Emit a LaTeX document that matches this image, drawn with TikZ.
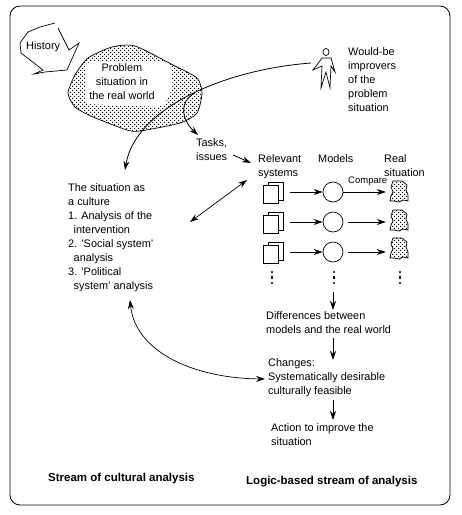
\documentclass[tikz,border=0pt]{standalone}
\usepackage{fontspec}
\setmainfont{Liberation Sans}
\usetikzlibrary{arrows.meta,patterns,shadows}
\pgfdeclarepatternformonly{blobdots}{\pgfqpoint{-1pt}{-1pt}}{\pgfqpoint{4pt}{4pt}}{\pgfqpoint{4pt}{4pt}}{
  \pgfpathrectangle{\pgfqpoint{0pt}{0pt}}{\pgfqpoint{1pt}{1pt}}
  \pgfpathrectangle{\pgfqpoint{2pt}{2pt}}{\pgfqpoint{1pt}{1pt}}
  \pgfusepath{fill}}

\begin{document}
\begin{tikzpicture}[
    x=1pt, y=-1pt,
    txt/.style={anchor=north west, align=left, inner sep=0pt, font=\fontsize{10.9}{14}\selectfont},
    headbox/.style={anchor=base west, inner sep=0pt, font=\fontsize{11.5}{14}\selectfont\bfseries},
    docbox/.style={rectangle, draw=black, fill=white, minimum width=15pt, minimum height=18pt, inner sep=0pt, line width=0.8pt,
        copy shadow={shadow xshift=5pt, shadow yshift=3pt, draw=black, fill=white, line width=0.8pt}},
    modelbox/.style={circle, draw=black, minimum size=20pt, inner sep=0pt, line width=0.7pt},
    realbox/.style={rectangle, minimum width=26pt, minimum height=22pt, inner sep=0pt},
    blob/.style={draw=black, pattern=blobdots, line width=0.7pt},
    arrow/.style={line width=0.8pt,-{Stealth[length=9pt,width=6pt]}},
    both/.style={line width=0.7pt,{Stealth[length=9pt,width=6pt]}-{Stealth[length=9pt,width=6pt]}},
    pics/realblob/.style={code={
        \draw[blob] (-6,-11) -- (3,-11) -- (8,-7) -- (7,-2) -- (9,3) -- (9,9) -- (4,8) -- (0,10) -- (-5,9) -- (-9,9) -- (-8,4) -- (-6,0) -- (-8,-5) -- cycle;
    }}
]
\useasboundingbox (0,0) rectangle (462,515);

% Frame
\draw[line width=0.8pt, rounded corners=10pt] (10,6) rectangle (450,505);

% History
\draw[line width=0.7pt] (58,28) -- (69,50) -- (79,43) -- (67,70) -- (45,72) -- (34,74) -- (43,70) -- (21,53) -- (20,43) -- (28,32) -- (40,27) -- (55,23);
\node[txt] (history) at (26,41) {History};

% Problem situation
\draw[blob] plot[smooth cycle, tension=0.4] coordinates {(112,47) (135,46) (173,65) (197,78) (202,93) (197,113) (180,123) (140,131) (127,130) (93,117) (75,107) (68,93) (75,75) (88,58)};
\fill[white, rounded corners=6pt] (85,62) -- (170,62) -- (173,87) -- (163,107) -- (85,104) -- cycle;
\node[txt, align=center, anchor=north] (problem) at (122,63) {Problem\\situation in\\the real world};

% Person
\coordinate (person) at (311,63);
\draw[line width=0.7pt] (326,52) circle[x radius=3, y radius=3.5];
\draw[line width=0.7pt] (322,58) -- (331,58) -- (335,72) -- (331,66) -- (330,88) -- (326,72) -- (321,88) -- (322,66) -- (313,70) -- (322,58);
\node[txt] (improvers) at (348,47) {Would-be\\improvers\\of the\\problem\\situation};

% Left column
\node[txt] (tasks) at (196,138) {Tasks,\\issues};
\node[txt] (culture) at (68,183) {The situation as\\a culture\\1. Analysis of the\\\hspace*{5.5pt}intervention\\2. 'Social system'\\\hspace*{5.5pt}analysis\\3. 'Political\\\hspace*{5.5pt}system' analysis};

% Column headings
\node[txt] (relevant) at (258,154) {Relevant\\systems};
\node[txt] (models) at (318,154) {Models};
\node[txt] (realsit) at (384,154) {Real\\situation};
\node[txt, font=\fontsize{9.5}{12}\selectfont] (compare) at (348,177) {Compare};

% Rows
\foreach \row/\ydoc/\ymodel/\yreal in {1/194/192/192, 2/224/222/221, 3/254/252/249} {
    \node[docbox] (doc\row) at (270.5,\ydoc) {};
    \node[modelbox] (model\row) at (333,\ymodel) {};
    \node[realbox] (real\row) at (399,\yreal) {};
    \pic at (real\row) {realblob};
    \draw[arrow] ([xshift=12pt]doc\row.east |- model\row.west) -- (model\row.west);
}
\draw[arrow] (model1.east) -- (real1.west |- model1.east);
\draw[arrow] ([xshift=5pt]model2.east) -- (real2.west |- model2.east);
\draw[arrow] ([xshift=5pt]model3.east) -- (real3.west |- model3.east);

% Dots
\foreach \xdots in {272,334,400} {
    \fill (\xdots,272) circle[radius=1.1];
    \fill (\xdots-1,276) rectangle (\xdots+1,279);
    \fill (\xdots,283) circle[radius=1.1];
}

% Lower steps
\node[txt] (differences) at (266,311) {Differences between\\models and the real world};
\node[txt] (changes) at (268,358) {Changes:\\Systematically desirable\\culturally feasible};
\node[txt] (action) at (271,423) {Action to improve the\\situation};
\node[headbox] (streamleft) at (48,481) {Stream of cultural analysis};
\node[headbox] (streamright) at (246,484) {Logic-based stream of analysis};

% Free ends
\coordinate (modelsdown) at (333,292);
\coordinate (diffup) at (333,310);
\coordinate (diffdown) at (333,338);
\coordinate (changesup) at (333,360);
\coordinate (changesdown) at (333,400);
\coordinate (actionup) at (333,420);
\coordinate (cultureup) at (125,170);
\coordinate (culturedown) at (130,300);
\coordinate (changesleft) at (265,379);
\coordinate (cultureright) at (190,222);
\coordinate (relevantleft) at (247,180);
\coordinate (problemout) at (195,93);
\coordinate (tasksup) at (198,135);
\coordinate (tasksright) at (233,155);
\coordinate (relevantin) at (251,163);

% Arrows
\draw[arrow] (modelsdown) -- (diffup);
\draw[arrow] (diffdown) -- (changesup);
\draw[arrow] (changesdown) -- (actionup);
\draw[arrow] (tasksright) -- (relevantin);
\draw[arrow] (problemout) .. controls (178,102) and (182,120) .. (tasksup);
\draw[arrow] (person) .. controls (220,70) and (135,110) .. (cultureup);
\draw[both] (cultureright) -- (relevantleft);
\draw[both] (culturedown) .. controls (135,350) and (190,378) .. (changesleft);

\end{tikzpicture}
\end{document}
